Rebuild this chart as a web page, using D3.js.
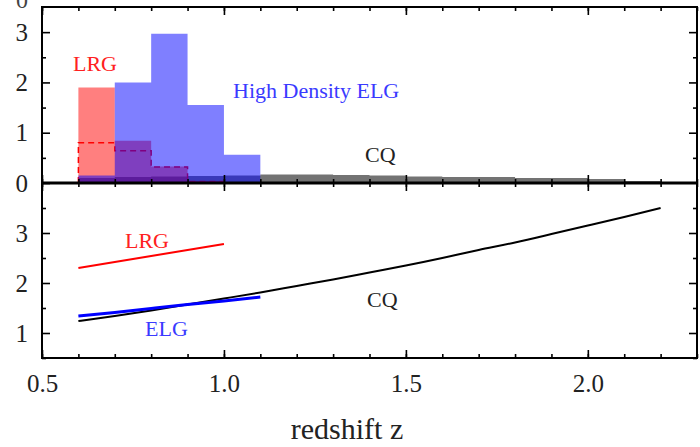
<!doctype html>
<html>
<head>
<meta charset="utf-8">
<title>redshift</title>
<script src="https://cdn.jsdelivr.net/npm/d3@7"></script>
<style>
  body { margin: 0; background: #fff; }
  text { font-family: "Liberation Serif", "DejaVu Serif", serif; }
</style>
</head>
<body>
<script>
// histogram bins (left edges, width 0.1)
const lrgBins = [0.6, 0.7, 0.8, 0.9];
const lrgHist = [1.9, 0.84, 0.33, 0.04];
const lrgDash = [0.8, 0.64, 0.32, 0.03];
const elgBins = [0.6, 0.7, 0.8, 0.9, 1.0];
const elgHist = [0.15, 2.0, 2.97, 1.55, 0.56];
const cqBins = [0.6, 0.7, 0.8, 0.9, 1.0, 1.1, 1.2, 1.3, 1.4, 1.5, 1.6, 1.7, 1.8, 1.9, 2.0, 2.1];
const cqHist = [0.1, 0.12, 0.13, 0.14, 0.15, 0.17, 0.17, 0.16, 0.15, 0.13, 0.12, 0.12, 0.1, 0.1, 0.08, 0.04];

// lower panel curves
const lrgZ = [0.6, 0.7, 0.8, 0.9, 1.0];
const lrgB = [2.30, 2.42, 2.54, 2.66, 2.78];
const elgZ = [0.6, 0.7, 0.8, 0.9, 1.0, 1.1];
const elgB = [1.34, 1.41, 1.49, 1.57, 1.64, 1.72];
const cqZ = [0.6, 0.7, 0.8, 0.9, 1.0, 1.1, 1.2, 1.3, 1.4, 1.5, 1.6, 1.7, 1.8, 1.9, 2.0, 2.1, 2.2];
const cqB = [1.24, 1.34, 1.45, 1.57, 1.69, 1.81, 1.94, 2.07, 2.21, 2.35, 2.50, 2.66, 2.81, 2.98, 3.15, 3.32, 3.5];

const xMajor = [0.5, 1.0, 1.5, 2.0];
const xMinor = d3.range(5, 24).map(d => d / 10);
const topMajor = [0, 1, 2, 3];
const topMinor = [0.5, 1.5, 2.5];
const botMajor = [1, 2, 3];
const botMinor = [0.5, 1.5, 2.5, 3.5];

const W = 700, H = 447;
const left = 42, right = 697;
const svg = d3.select("body").append("svg").attr("width", W).attr("height", H);

const x = d3.scaleLinear().domain([0.5, 2.3]).range([left, right]);
const yTop = d3.scaleLinear().domain([0, 3.5]).range([183, 7]);
const yBot = d3.scaleLinear().domain([0.5, 4.0]).range([358, 183]);

function stepPts(bins, vals) {
  const pts = bins.map((b, i) => [b, vals[i]]);
  pts.push([bins[bins.length - 1] + 0.1, vals[vals.length - 1]]);
  return pts;
}

const area = d3.area().curve(d3.curveStepAfter)
  .x(d => x(d[0])).y0(yTop(0)).y1(d => yTop(d[1]));

// histograms
svg.append("path").attr("d", area(stepPts(cqBins, cqHist))).attr("fill", "rgba(0,0,0,0.55)");
svg.append("path").attr("d", area(stepPts(lrgBins, lrgHist))).attr("fill", "rgba(255,0,0,0.5)");

const dashPts = [[0.6, 0]].concat(stepPts(lrgBins, lrgDash)).concat([[1.0, 0]]);
svg.append("path")
  .attr("d", d3.line().curve(d3.curveStepAfter).x(d => x(d[0])).y(d => yTop(d[1]))(dashPts))
  .attr("fill", "none").attr("stroke", "#ff0000").attr("stroke-width", 1.5)
  .attr("stroke-dasharray", "6,4");

svg.append("path").attr("d", area(stepPts(elgBins, elgHist))).attr("fill", "rgba(0,0,255,0.5)");

// lower curves
const line = d3.line().curve(d3.curveNatural).x(d => x(d[0])).y(d => yBot(d[1]));
svg.append("path").attr("d", line(cqZ.map((z, i) => [z, cqB[i]])))
  .attr("fill", "none").attr("stroke", "#000").attr("stroke-width", 2);
svg.append("path").attr("d", line(lrgZ.map((z, i) => [z, lrgB[i]])))
  .attr("fill", "none").attr("stroke", "#ff0000").attr("stroke-width", 2);
svg.append("path").attr("d", line(elgZ.map((z, i) => [z, elgB[i]])))
  .attr("fill", "none").attr("stroke", "#0000ff").attr("stroke-width", 3);

// axes
function styleAxis(g) {
  g.attr("font-family", null);
  g.select(".domain").remove();
  g.selectAll(".tick line").attr("stroke", "#000").attr("stroke-width", 1.6);
  g.selectAll("text").attr("fill", "#222").style("font-size", "25px")
    .style("font-family", "'Liberation Serif', serif");
}
function xAxes(y0, dir, labels) {
  const mk = dir > 0 ? d3.axisBottom : d3.axisTop;
  svg.append("g").attr("transform", `translate(0,${y0})`)
    .call(mk(x).tickValues(xMinor).tickSize(-4).tickFormat(""))
    .call(styleAxis);
  svg.append("g").attr("transform", `translate(0,${y0})`)
    .call(mk(x).tickValues(xMajor).tickSize(-8).tickPadding(16)
      .tickFormat(labels ? d3.format(".1f") : ""))
    .call(styleAxis);
}
function yAxes(scale, major, minor, side, labels) {
  const mk = side === "left" ? d3.axisLeft : d3.axisRight;
  const xp = side === "left" ? left : right;
  svg.append("g").attr("transform", `translate(${xp},0)`)
    .call(mk(scale).tickValues(minor).tickSize(-4).tickFormat(""))
    .call(styleAxis);
  svg.append("g").attr("transform", `translate(${xp},0)`)
    .call(mk(scale).tickValues(major).tickSize(-8).tickPadding(14)
      .tickFormat(labels ? d3.format("d") : ""))
    .call(styleAxis);
}

// top panel
xAxes(7, -1, false);
xAxes(183, 1, false);
yAxes(yTop, topMajor, topMinor, "left", true);
yAxes(yTop, [1, 2, 3], topMinor, "right", false);
// bottom panel
xAxes(183, -1, false);
xAxes(358, 1, true);
yAxes(yBot, botMajor, botMinor, "left", true);
yAxes(yBot, botMajor, botMinor, "right", false);

// frames
svg.append("rect").attr("x", left).attr("y", 7).attr("width", right - left).attr("height", 351)
  .attr("fill", "none").attr("stroke", "#000").attr("stroke-width", 2);
svg.append("line").attr("x1", left).attr("x2", right).attr("y1", 183).attr("y2", 183)
  .attr("stroke", "#000").attr("stroke-width", 3);

// cut-off label at the very top (as in the source image)
svg.append("text").attr("x", 28).attr("y", 8).attr("text-anchor", "end")
  .attr("fill", "#444").style("font-size", "24px").text("0");

// annotations
function label(t, xp, yp, c) {
  svg.append("text").attr("x", xp).attr("y", yp).attr("fill", c)
    .style("font-size", "22px").text(t);
}
label("LRG", 73, 71, "#ff2020");
label("High Density ELG", 233, 98, "#3a3aff");
label("CQ", 365, 162, "#222");
label("LRG", 125, 248, "#ff2020");
label("ELG", 145, 336, "#3a3aff");
label("CQ", 367, 307, "#222");

svg.append("text").attr("x", 347).attr("y", 439).attr("text-anchor", "middle")
  .attr("fill", "#222").style("font-size", "30px").text("redshift z");
</script>
</body>
</html>
